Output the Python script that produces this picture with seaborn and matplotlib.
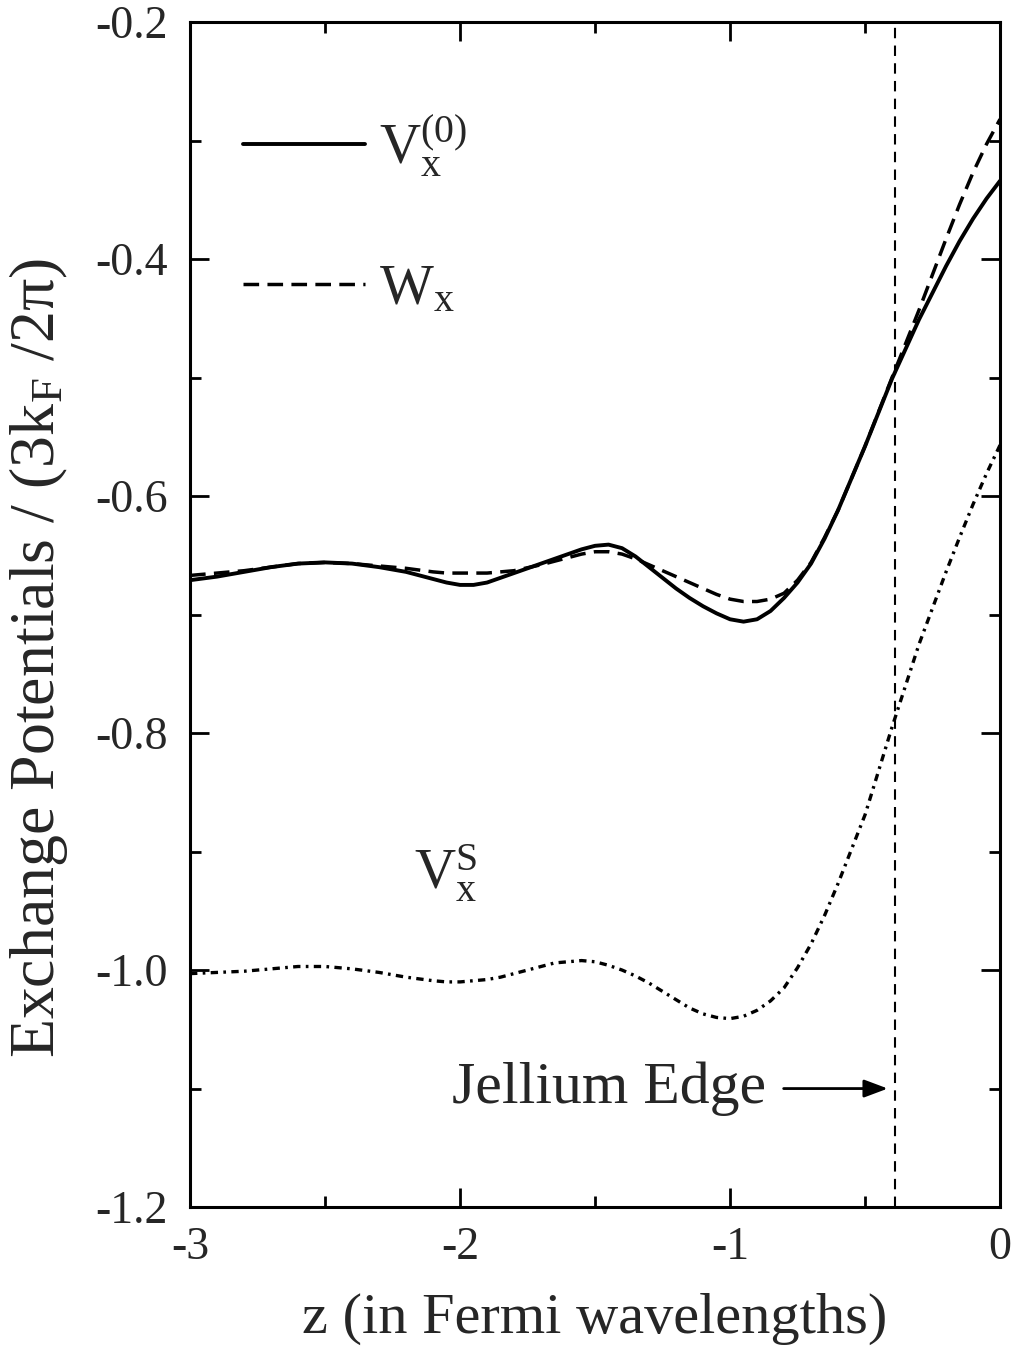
import matplotlib
matplotlib.use("Agg")
import matplotlib.pyplot as plt
import seaborn as sns
import pandas as pd
from matplotlib.ticker import MultipleLocator, FixedLocator

# ---------------- data ----------------
z = [-3.0, -2.9, -2.8, -2.7, -2.6, -2.5, -2.4, -2.3, -2.2, -2.1, -2.05, -2.0,
     -1.95, -1.9, -1.85, -1.8, -1.7, -1.65, -1.6, -1.55, -1.5, -1.45, -1.4, -1.35,
     -1.3, -1.25, -1.2, -1.15, -1.1, -1.05, -1.0, -0.95, -0.9, -0.85, -0.8,
     -0.75, -0.7, -0.65, -0.6, -0.5, -0.4, -0.3, -0.2, -0.15, -0.1, -0.05, 0.0]

v_x0 = [-0.671, -0.668, -0.664, -0.660, -0.657, -0.656, -0.657, -0.660, -0.664, -0.670, -0.673, -0.675,
        -0.675, -0.673, -0.669, -0.665, -0.657, -0.653, -0.649, -0.645, -0.642, -0.641, -0.644, -0.651,
        -0.660, -0.669, -0.678, -0.686, -0.693, -0.699, -0.704, -0.706, -0.704, -0.697, -0.686,
        -0.673, -0.657, -0.636, -0.612, -0.558, -0.501, -0.451, -0.406, -0.385, -0.366, -0.349, -0.334]

w_x = [-0.667, -0.665, -0.663, -0.660, -0.657, -0.656, -0.657, -0.659, -0.661, -0.664, -0.665, -0.665,
       -0.665, -0.665, -0.664, -0.663, -0.658, -0.655, -0.652, -0.649, -0.647, -0.647, -0.649, -0.653,
       -0.658, -0.663, -0.668, -0.673, -0.678, -0.683, -0.687, -0.689, -0.689, -0.687, -0.682,
       -0.671, -0.656, -0.635, -0.612, -0.558, -0.500, -0.443, -0.383, -0.354, -0.327, -0.303, -0.282]

v_xs = [-1.003, -1.002, -1.001, -0.999, -0.997, -0.997, -0.999, -1.002, -1.006, -1.009, -1.010, -1.010,
        -1.009, -1.008, -1.006, -1.003, -0.997, -0.994, -0.993, -0.992, -0.993, -0.996, -1.000, -1.005,
        -1.011, -1.018, -1.025, -1.032, -1.037, -1.040, -1.041, -1.039, -1.034, -1.026, -1.015,
        -0.998, -0.978, -0.954, -0.927, -0.869, -0.795, -0.725, -0.664, -0.635, -0.607, -0.581, -0.557]

jellium_edge = -0.39

x_ticks = [-3, -2, -1, 0]
x_ticklabels = ["-3", "-2", "-1", "0"]
y_ticks = [-1.2, -1.0, -0.8, -0.6, -0.4, -0.2]
y_ticklabels = ["-1.2", "-1.0", "-0.8", "-0.6", "-0.4", "-0.2"]

label_v0 = r"$\mathrm{V}_{\mathrm{x}}^{(0)}$"
label_w = r"$\mathrm{W}_{\mathrm{x}}$"
label_vs = r"$\mathrm{V}_{\mathrm{x}}^{\mathrm{S}}$"
xlabel = "z (in Fermi wavelengths)"
ylabel = "Exchange Potentials / (3k$_{\\mathrm{F}}$ /2π)"
edge_text = "Jellium Edge"

# ---------------- style ----------------
sns.set_theme(style="ticks")
plt.rcParams["font.family"] = ["Liberation Serif", "DejaVu Serif"]
plt.rcParams["mathtext.fontset"] = "custom"
plt.rcParams["mathtext.rm"] = "Liberation Serif"
plt.rcParams["mathtext.it"] = "Liberation Serif:italic"
plt.rcParams["axes.unicode_minus"] = False

df = pd.DataFrame({"z": z, "v0": v_x0, "w": w_x, "vs": v_xs})

fig = plt.figure(figsize=(10.19, 13.59), dpi=100)
ax = fig.add_axes([0.1865, 0.1118, 0.7949, 0.872])

sns.lineplot(data=df, x="z", y="v0", ax=ax, color="black", lw=2.8,
             linestyle="-", label=label_v0)
sns.lineplot(data=df, x="z", y="w", ax=ax, color="black", lw=2.5,
             linestyle=(0, (4.5, 2.4)), label=label_w)
sns.lineplot(data=df, x="z", y="vs", ax=ax, color="black", lw=2.4,
             linestyle=(0, (2.2, 1.6, 0.8, 1.6)))

ax.axvline(jellium_edge, color="black", lw=1.5, linestyle=(0, (5, 3.5)))

ax.set_xlim(-3, 0)
ax.set_ylim(-1.2, -0.2)
ax.xaxis.set_major_locator(FixedLocator(x_ticks))
ax.set_xticklabels(x_ticklabels)
ax.xaxis.set_minor_locator(MultipleLocator(0.5))
ax.yaxis.set_major_locator(FixedLocator(y_ticks))
ax.set_yticklabels(y_ticklabels)
ax.yaxis.set_minor_locator(MultipleLocator(0.1))

ax.tick_params(which="both", direction="in", top=True, right=True,
               color="black", labelsize=33)
ax.tick_params(which="major", length=14, width=2.0)
ax.tick_params(which="minor", length=8, width=2.0)
ax.tick_params(axis="y", pad=16)
ax.tick_params(axis="x", pad=14)
for s in ax.spines.values():
    s.set_visible(True)
    s.set_linewidth(2.2)
    s.set_color("black")

ax.set_xlabel(xlabel, fontsize=42)
ax.xaxis.set_label_coords(0.5, -0.072)
ax.set_ylabel(ylabel, fontsize=46)
ax.yaxis.set_label_coords(-0.148, 0.463)

leg = ax.legend(loc="upper left", bbox_to_anchor=(0.03, 0.948), frameon=False,
                fontsize=41, handlelength=2.15, handletextpad=0.25,
                labelspacing=1.5, borderpad=0)

ax.text(-2.17, -0.932, label_vs, fontsize=41, ha="left", va="baseline")

ax.annotate(edge_text, xy=(jellium_edge, -1.1), xytext=(-0.865, -1.1),
            fontsize=43, ha="right", va="center",
            arrowprops=dict(arrowstyle="-|>,head_length=0.8,head_width=0.3",
                            mutation_scale=18, color="black", lw=2,
                            shrinkA=10, shrinkB=5))

fig.savefig("out.png", dpi=100, facecolor="white")
